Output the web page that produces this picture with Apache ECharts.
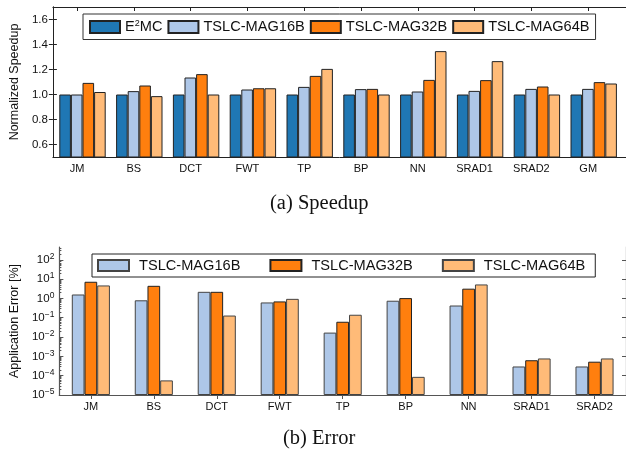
<!DOCTYPE html>
<html>
<head>
<meta charset="utf-8">
<script src="https://cdn.jsdelivr.net/npm/echarts@6/dist/echarts.min.js"></script>
<style>
html,body{margin:0;padding:0;background:#fff;}
#c{width:626px;height:451px;}
</style>
</head>
<body>
<div id="c"></div>
<script>
// ---- data ----
const categories = ['JM','BS','DCT','FWT','TP','BP','NN','SRAD1','SRAD2','GM'];
const speedE2MC = [1.00,1.00,1.00,1.00,1.00,1.00,1.00,1.00,1.00,1.00];
const speed16B  = [1.00,1.027,1.136,1.04,1.061,1.043,1.024,1.029,1.045,1.045];
const speed32B  = [1.093,1.072,1.163,1.05,1.149,1.045,1.117,1.115,1.064,1.099];
const speed64B  = [1.02,0.987,1.00,1.05,1.205,1.00,1.347,1.267,1.00,1.088];
const speedTicks = [0.6,0.8,1.0,1.2,1.4,1.6];

const errCategories = ['JM','BS','DCT','FWT','TP','BP','NN','SRAD1','SRAD2'];
const err16B = [1.6,0.8,2.2,0.62,0.017,0.76,0.43,3.0e-4,3.0e-4];
const err32B = [7.3,4.5,2.2,0.70,0.062,1.04,3.2,6.3e-4,5.3e-4];
const err64B = [4.7,5.7e-5,0.13,0.95,0.143,8.7e-5,5.3,7.8e-4,7.8e-4];
const errTicks = [1e-5,1e-4,1e-3,1e-2,1e-1,1e0,1e1,1e2];
const errMin = 1e-5, errMax = 460;

const C_E2MC = '#1f77b4', C16 = '#aec7e8', C32 = '#ff7f0e', C64 = '#ffbb78';
const FONT = 'Liberation Sans';

// log scale measured in decades above errMin, so bars grow from the 10^-5 floor
const L = v => Math.log10(v) - Math.log10(errMin);
const errMinor = [];
for (let e = -5; e <= 2; e++) for (let k = 2; k <= 9; k++) {
  const v = k * Math.pow(10, e);
  if (v < errMax) errMinor.push(L(v));
}

function supLabel(d) {
  const e = Math.round(d + Math.log10(errMin));
  return '{b|10}{s|' + (e < 0 ? '\u2212' + (-e) : e) + '}';
}

const chart = echarts.init(document.getElementById('c'), null, {renderer: 'canvas'});

const frameTop = '#222', frameBot = '#555';

const option = {
  animation: false,
  backgroundColor: '#fff',
  textStyle: {fontFamily: FONT},
  title: [
    {text: '(a) Speedup', left: 270, top: 193, padding: 0,
     textStyle: {fontFamily: 'Liberation Serif', fontSize: 20.5, fontWeight: 'normal', color: '#111'}},
    {text: '(b) Error', left: 283, top: 428, padding: 0,
     textStyle: {fontFamily: 'Liberation Serif', fontSize: 20.5, fontWeight: 'normal', color: '#111'}}
  ],
  legend: [
    {
      data: ['E2MC','TSLC-MAG16B','TSLC-MAG32B','TSLC-MAG64B'],
      icon: 'rect',
      left: 83, top: 14, orient: 'horizontal',
      padding: [5, 6, 5, 6], itemGap: 5, itemWidth: 30, itemHeight: 12,
      borderColor: '#333', borderWidth: 1, borderRadius: 0,
      textStyle: {fontFamily: FONT, fontSize: 14.6, color: '#111',
        rich: {a: {fontFamily: FONT, fontSize: 14.6, color: '#111'},
               s: {fontFamily: FONT, fontSize: 9, color: '#111', verticalAlign: 'top', padding: [0,0,7,0]}}},
      formatter: function (n) { return n === 'E2MC' ? '{a|E}{s|2}{a|MC}' : n; },
      selectedMode: false
    },
    {
      data: ['TSLC-MAG16B ','TSLC-MAG32B ','TSLC-MAG64B '],
      icon: 'rect',
      left: 92, top: 254, orient: 'horizontal',
      padding: [4, 6, 4, 5], itemGap: 25, itemWidth: 31, itemHeight: 11,
      borderColor: '#222', borderWidth: 1, borderRadius: 0,
      textStyle: {fontFamily: FONT, fontSize: 14.6, color: '#111', padding: [0,0,0,5]},
      selectedMode: false
    }
  ],
  grid: [
    {left: 48, top: 7, width: 579, height: 150},   // top frame
    {left: 54.1, top: 7, width: 568, height: 150}, // top bars
    {left: 48.6, top: 7, width: 568, height: 150}, // top category labels/ticks
    {left: 55, top: 247, width: 574, height: 148}  // bottom chart
  ],
  xAxis: [
    {gridIndex: 0, type: 'value', min: 0, max: 1, position: 'bottom',
     axisLine: {show: true, lineStyle: {color: frameTop, width: 1}}, axisTick: {show: false}, axisLabel: {show: false}, splitLine: {show: false}},
    {gridIndex: 0, type: 'value', min: 0, max: 1, position: 'top',
     axisLine: {show: true, lineStyle: {color: frameTop, width: 1}}, axisTick: {show: false}, axisLabel: {show: false}, splitLine: {show: false}},
    {gridIndex: 1, type: 'category', data: categories, show: false},
    {gridIndex: 2, type: 'category', data: categories, position: 'bottom',
     axisLine: {show: false}, axisTick: {show: true, inside: true, length: 4, alignWithLabel: true, lineStyle: {color: frameTop}},
     axisLabel: {fontFamily: FONT, fontSize: 11, color: '#111', margin: 6}},
    {gridIndex: 2, type: 'category', data: categories, position: 'top',
     axisLine: {show: false}, axisTick: {show: true, inside: true, length: 4, alignWithLabel: true, lineStyle: {color: frameTop}},
     axisLabel: {show: false}},
    {gridIndex: 3, type: 'category', data: errCategories, position: 'bottom',
     axisLine: {show: true, lineStyle: {color: frameBot, width: 1.2}},
     axisTick: {show: true, inside: true, length: 4, alignWithLabel: true, lineStyle: {color: frameBot}},
     axisLabel: {fontFamily: FONT, fontSize: 11, color: '#111', margin: 6}},
    {gridIndex: 3, type: 'category', data: errCategories, position: 'top',
     axisLine: {show: true, lineStyle: {color: frameBot, width: 1.2}},
     axisTick: {show: true, inside: true, length: 4, alignWithLabel: true, lineStyle: {color: frameBot}},
     axisLabel: {show: false}}
  ],
  yAxis: [
    {gridIndex: 0, type: 'value', min: 0.5, max: 1.7, position: 'left',
     name: 'Normalized Speedup', nameLocation: 'middle', nameGap: 31,
     nameTextStyle: {fontFamily: FONT, fontSize: 12.5, color: '#111'},
     axisLine: {show: true, lineStyle: {color: frameTop}},
     axisTick: {show: true, inside: true, length: 4, customValues: speedTicks, lineStyle: {color: frameTop}},
     axisLabel: {customValues: speedTicks, fontFamily: FONT, fontSize: 11.5, color: '#111', margin: 5,
       formatter: function (v) { return v.toFixed(1); }},
     splitLine: {show: false}},
    {gridIndex: 0, type: 'value', min: 0.5, max: 1.7, position: 'right',
     axisLine: {show: true, lineStyle: {color: frameTop}},
     axisTick: {show: true, inside: true, length: 4, customValues: speedTicks, lineStyle: {color: frameTop}},
     axisLabel: {show: false}, splitLine: {show: false}},
    {gridIndex: 1, type: 'value', min: 0.5, max: 1.7, show: false, splitLine: {show: false}},
    {gridIndex: 2, type: 'value', min: 0, max: 1, show: false, splitLine: {show: false}},
    {gridIndex: 3, type: 'value', min: L(errMin), max: L(errMax), position: 'left',
     name: 'Application Error [%]', nameLocation: 'middle', nameGap: 38,
     nameTextStyle: {fontFamily: FONT, fontSize: 12.5, color: '#111'},
     axisLine: {show: true, lineStyle: {color: frameBot, width: 1.2}},
     axisTick: {show: true, inside: true, length: 4, customValues: errTicks.map(L), lineStyle: {color: frameBot}},
     axisLabel: {customValues: errTicks.map(L), formatter: supLabel, margin: 5,
       rich: {b: {fontFamily: FONT, fontSize: 11.5, color: '#111'},
              s: {fontFamily: FONT, fontSize: 8.5, color: '#111', verticalAlign: 'top', padding: [0,0,6,0]}}},
     splitLine: {show: false}},
    {gridIndex: 3, type: 'value', min: L(errMin), max: L(errMax), position: 'left',
     axisLine: {show: false},
     axisTick: {show: true, inside: true, length: 2, customValues: errMinor, lineStyle: {color: frameBot}},
     axisLabel: {show: false}, splitLine: {show: false}},
    {gridIndex: 3, type: 'value', min: L(errMin), max: L(errMax), position: 'right',
     axisLine: {show: true, lineStyle: {color: frameBot, width: 1.2}},
     axisTick: {show: true, inside: true, length: 4, customValues: errTicks.map(L), lineStyle: {color: frameBot}},
     axisLabel: {show: false}, splitLine: {show: false}}
  ],
  series: [
    {name: 'E2MC', type: 'bar', xAxisIndex: 2, yAxisIndex: 2, data: speedE2MC, barWidth: 11.6, barGap: '0%',
     itemStyle: {color: C_E2MC, borderColor: '#222', borderWidth: 1}},
    {name: 'TSLC-MAG16B', type: 'bar', xAxisIndex: 2, yAxisIndex: 2, data: speed16B, barWidth: 11.6, barGap: '0%',
     itemStyle: {color: C16, borderColor: '#222', borderWidth: 1}},
    {name: 'TSLC-MAG32B', type: 'bar', xAxisIndex: 2, yAxisIndex: 2, data: speed32B, barWidth: 11.6, barGap: '0%',
     itemStyle: {color: C32, borderColor: '#222', borderWidth: 1}},
    {name: 'TSLC-MAG64B', type: 'bar', xAxisIndex: 2, yAxisIndex: 2, data: speed64B, barWidth: 11.6, barGap: '0%',
     itemStyle: {color: C64, borderColor: '#222', borderWidth: 1}},
    {name: 'TSLC-MAG16B ', type: 'bar', xAxisIndex: 5, yAxisIndex: 4, data: err16B.map(L), barWidth: 12.7, barGap: '0%',
     itemStyle: {color: C16, borderColor: '#444', borderWidth: 1}},
    {name: 'TSLC-MAG32B ', type: 'bar', xAxisIndex: 5, yAxisIndex: 4, data: err32B.map(L), barWidth: 12.7, barGap: '0%',
     itemStyle: {color: C32, borderColor: '#222', borderWidth: 1}},
    {name: 'TSLC-MAG64B ', type: 'bar', xAxisIndex: 5, yAxisIndex: 4, data: err64B.map(L), barWidth: 12.7, barGap: '0%',
     itemStyle: {color: C64, borderColor: '#444', borderWidth: 1}}
  ]
};
chart.setOption(option);
</script>
</body>
</html>
